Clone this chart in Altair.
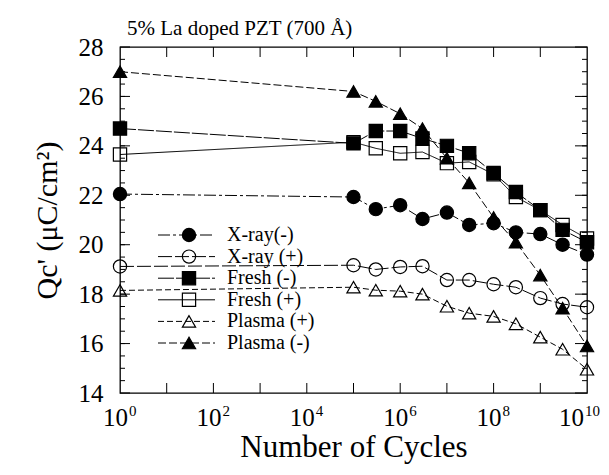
import altair as alt
import pandas as pd

cycles = [1, 1e5, 3e5, 1e6, 3e6, 1e7, 3e7, 1e8, 3e8, 1e9, 3e9, 1e10]

series_names = ["X-ray(-)", "X-ray (+)", "Fresh (-)", "Fresh (+)", "Plasma (+)", "Plasma (-)"]
xray_minus = [22.05, 21.93, 21.44, 21.6, 21.04, 21.3, 20.8, 20.87, 20.5, 20.43, 20.0, 19.6]
xray_plus = [19.12, 19.17, 19.0, 19.1, 19.13, 18.57, 18.57, 18.4, 18.28, 17.84, 17.6, 17.47]
fresh_minus = [24.7, 24.1, 24.6, 24.6, 24.3, 24.0, 23.7, 22.9, 22.13, 21.4, 20.6, 20.1]
fresh_plus = [23.65, 24.15, 23.9, 23.7, 23.75, 23.3, 23.35, 22.85, 21.93, 21.4, 20.8, 20.25]
plasma_plus = [18.15, 18.28, 18.16, 18.12, 18.0, 17.51, 17.23, 17.1, 16.8, 16.26, 15.77, 14.96]
plasma_minus = [27.0, 26.2, 25.8, 25.3, 24.7, 23.5, 22.5, 21.1, 20.1, 18.77, 17.43, 15.9]
all_values = [xray_minus, xray_plus, fresh_minus, fresh_plus, plasma_plus, plasma_minus]

shapes = ["circle", "circle", "square", "square", "triangle-up", "triangle-up"]
fills = ["black", "transparent", "black", "transparent", "transparent", "black"]
dashes = [[12, 3, 3, 3], [14, 3], [16, 2], [1, 0], [6, 3], [8, 3]]

x_label_values = [1, 1e2, 1e4, 1e6, 1e8, 1e10]
x_label_base = ["10", "10", "10", "10", "10", "10"]
x_label_exp = ["0", "2", "4", "6", "8", "10"]
x_tick_values = [1e1, 1e2, 1e3, 1e4, 1e5, 1e6, 1e7, 1e8, 1e9]
y_label_values = [14, 16, 18, 20, 22, 24, 26, 28]
y_minor_values = [v / 2 for v in range(29, 56)]

W, H = 467, 346
FONT = "Liberation Serif"

rows = []
for name, vals in zip(series_names, all_values):
    for c, v in zip(cycles, vals):
        rows.append({"cycles": c, "qc": v, "series": name})
df = pd.DataFrame(rows)

draw_order = {n: i for i, n in enumerate(["X-ray (+)", "Fresh (+)", "Plasma (+)", "X-ray(-)", "Fresh (-)", "Plasma (-)"])}
df["order"] = df["series"].map(draw_order)

shape_scale = alt.Scale(domain=series_names, range=shapes)
fill_scale = alt.Scale(domain=series_names, range=fills)
dash_scale = alt.Scale(domain=series_names, range=dashes)

x_enc = alt.X(
    "cycles:Q",
    scale=alt.Scale(type="log", domain=[1, 1e10], nice=False),
    axis=alt.Axis(
        values=x_label_values, grid=False, ticks=False, domain=False, labels=False,
        title="Number of Cycles", titlePadding=39, titleFontSize=31,
    ),
)
y_enc = alt.Y(
    "qc:Q",
    scale=alt.Scale(domain=[14, 28], nice=False, zero=False),
    axis=alt.Axis(
        values=y_label_values, grid=False, ticks=False, domain=False,
        labelPadding=17, title="Qc' (μC/cm²)", titlePadding=16,
    ),
)

base = alt.Chart(df)
lines = base.mark_line(color="black", strokeWidth=1).encode(
    x=x_enc, y=y_enc,
    detail="series:N",
    strokeDash=alt.StrokeDash("series:N", scale=dash_scale, legend=None),
)
points = base.mark_point(stroke="black", strokeWidth=1.2, opacity=1, size=175).encode(
    x="cycles:Q", y="qc:Q",
    shape=alt.Shape("series:N", scale=shape_scale, legend=None),
    fill=alt.Fill("series:N", scale=fill_scale, legend=None),
    order="order:Q",
)

ymaj = pd.DataFrame({"v": y_label_values})
ymin = pd.DataFrame({"v": y_minor_values})
xt = pd.DataFrame({"c": x_tick_values})
xl = pd.DataFrame({"c": x_label_values, "base": x_label_base, "exp": x_label_exp})
xl_chart = alt.Chart(xl)
inner = "datum.c < 1e10"
last = "datum.c >= 1e10"

tick_layers = [
    alt.Chart(ymaj).mark_rule(color="black", strokeWidth=1).encode(y="v:Q", x=alt.value(0), x2=alt.value(10)),
    alt.Chart(ymin).mark_rule(color="black", strokeWidth=1).encode(y="v:Q", x=alt.value(0), x2=alt.value(5)),
    alt.Chart(ymaj).mark_rule(color="black", strokeWidth=1).encode(y="v:Q", x=alt.value(W - 12), x2=alt.value(W)),
    alt.Chart(ymin).mark_rule(color="black", strokeWidth=1).encode(y="v:Q", x=alt.value(W - 5), x2=alt.value(W)),
    alt.Chart(xt).mark_rule(color="black", strokeWidth=1).encode(x="c:Q", y=alt.value(H - 10), y2=alt.value(H)),
    alt.Chart(xt).mark_rule(color="black", strokeWidth=1).encode(x="c:Q", y=alt.value(0), y2=alt.value(10)),
    xl_chart.transform_filter(inner).mark_text(font=FONT, fontSize=25, color="black", align="right", baseline="alphabetic", dx=8).encode(
        x="c:Q", y=alt.value(H + 33), text="base:N"),
    xl_chart.transform_filter(inner).mark_text(font=FONT, fontSize=15, color="black", align="left", baseline="alphabetic", dx=9).encode(
        x="c:Q", y=alt.value(H + 23), text="exp:N"),
    xl_chart.transform_filter(last).mark_text(font=FONT, fontSize=25, color="black", align="right", baseline="alphabetic", dx=-3).encode(
        x="c:Q", y=alt.value(H + 33), text="base:N"),
    xl_chart.transform_filter(last).mark_text(font=FONT, fontSize=15, color="black", align="left", baseline="alphabetic", dx=-2).encode(
        x="c:Q", y=alt.value(H + 23), text="exp:N"),
]

main = alt.layer(lines, points, *tick_layers)

leg_df = pd.DataFrame({"series": series_names})
leg_y = alt.Y("series:N", scale=alt.Scale(type="point", domain=series_names, range=[188, 296], padding=0), axis=None)
leg_rule = alt.Chart(leg_df).mark_rule(color="black", strokeWidth=1).encode(
    y=leg_y, x=alt.value(38), x2=alt.value(95),
    strokeDash=alt.StrokeDash("series:N", scale=dash_scale, legend=None),
)
leg_pts = alt.Chart(leg_df).mark_point(stroke="black", strokeWidth=1.2, opacity=1, size=175).encode(
    y=leg_y, x=alt.value(69),
    shape=alt.Shape("series:N", scale=shape_scale, legend=None),
    fill=alt.Fill("series:N", scale=fill_scale, legend=None),
)
leg_txt = alt.Chart(leg_df).mark_text(align="left", baseline="middle", font=FONT, fontSize=20, color="black").encode(
    y=leg_y, x=alt.value(107), text="series:N",
)
legend = alt.layer(leg_rule, leg_pts, leg_txt)

chart = alt.layer(main, legend).resolve_scale(y="independent").properties(
    width=W, height=H,
    title=alt.TitleParams("5% La doped PZT (700 Å)", anchor="start", frame="group", font=FONT,
                          fontSize=21, fontWeight="normal", color="black", offset=0, dx=7, dy=4),
    autosize=alt.AutoSizeParams(type="none"),
    padding={"left": 112, "top": 39, "right": 14, "bottom": 74},
).configure_view(stroke="black", strokeWidth=1.3).configure_axis(
    labelFont=FONT, labelFontSize=25, labelColor="black",
    titleFont=FONT, titleFontSize=30, titleFontWeight="normal", titleColor="black",
)

chart.save("out.html", embed_options={"renderer": "svg", "actions": False})
